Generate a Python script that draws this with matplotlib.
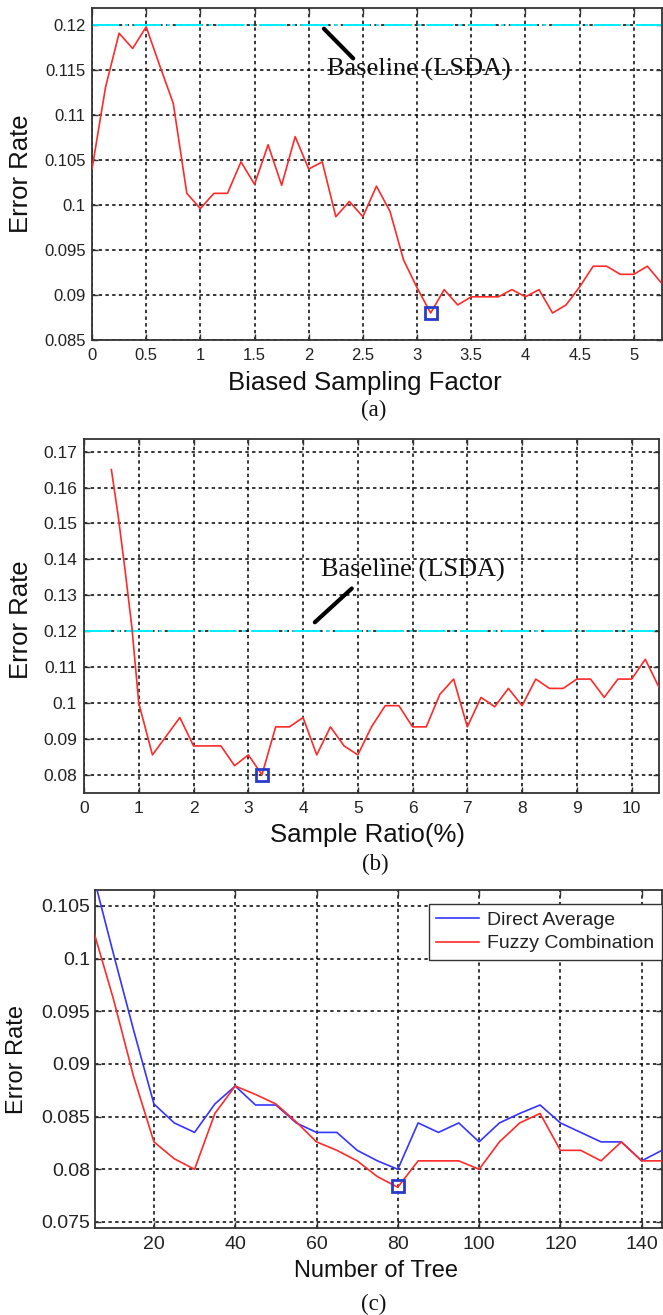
import matplotlib
matplotlib.use("Agg")
import matplotlib.pyplot as plt
import numpy as np
from matplotlib.ticker import FuncFormatter

# ---------------- data ----------------
a_x = [0, 0.125, 0.25, 0.375, 0.5, 0.625, 0.75, 0.875, 1.0, 1.125, 1.25, 1.375,
       1.5, 1.625, 1.75, 1.875, 2.0, 2.125, 2.25, 2.375, 2.5, 2.625, 2.75, 2.875,
       3.0, 3.125, 3.25, 3.375, 3.5, 3.625, 3.75, 3.875, 4.0, 4.125, 4.25, 4.375,
       4.5, 4.625, 4.75, 4.875, 5.0, 5.125, 5.25]
a_err = [0.1040, 0.1131, 0.1191, 0.1174, 0.1198, 0.1155, 0.1113, 0.1013, 0.0996,
         0.1013, 0.1013, 0.1048, 0.1023, 0.1067, 0.1022, 0.1076, 0.1040, 0.1048,
         0.0987, 0.1004, 0.0987, 0.1021, 0.0993, 0.0939, 0.0908, 0.0880, 0.0906,
         0.0889, 0.0898, 0.0898, 0.0898, 0.0906, 0.0898, 0.0906, 0.0880, 0.0889,
         0.0909, 0.0932, 0.0932, 0.0923, 0.0923, 0.0932, 0.0914]
a_best = (3.125, 0.0880)

b_x = [0.5, 0.625, 0.75, 0.875, 1.0, 1.25, 1.5, 1.75, 2.0, 2.25, 2.5, 2.75, 3.0,
       3.25, 3.5, 3.75, 4.0, 4.25, 4.5, 4.75, 5.0, 5.25, 5.5, 5.75, 6.0, 6.25,
       6.5, 6.75, 7.0, 7.25, 7.5, 7.75, 8.0, 8.25, 8.5, 8.75, 9.0, 9.25, 9.5,
       9.75, 10.0, 10.25, 10.5]
b_err = [0.165, 0.152, 0.137, 0.121, 0.100, 0.0856, 0.0908, 0.0960, 0.0881,
         0.0881, 0.0881, 0.0826, 0.0856, 0.0801, 0.0934, 0.0934, 0.0960, 0.0856,
         0.0934, 0.0881, 0.0856, 0.0934, 0.0993, 0.0993, 0.0934, 0.0934, 0.1025,
         0.1067, 0.0934, 0.1016, 0.0990, 0.1041, 0.0993, 0.1067, 0.1041, 0.1041,
         0.1067, 0.1067, 0.1016, 0.1067, 0.1067, 0.1122, 0.1044]
b_best = (3.25, 0.0801)

baseline = 0.12

c_trees = [5, 10, 15, 20, 25, 30, 35, 40, 45, 50, 55, 60, 65, 70, 75, 80, 85,
           90, 95, 100, 105, 110, 115, 120, 125, 130, 135, 140, 145]
c_direct = [0.1080, 0.1005, 0.0932, 0.0862, 0.0844, 0.0835, 0.0862, 0.0879,
            0.0861, 0.0861, 0.0844, 0.0835, 0.0835, 0.0818, 0.0808, 0.0800,
            0.0844, 0.0835, 0.0844, 0.0826, 0.0844, 0.0853, 0.0861, 0.0844,
            0.0835, 0.0826, 0.0826, 0.0808, 0.0818]
c_fuzzy = [0.1028, 0.0962, 0.0888, 0.0826, 0.0810, 0.0800, 0.0853, 0.0879,
           0.0871, 0.0862, 0.0845, 0.0826, 0.0818, 0.0808, 0.0793, 0.0783,
           0.0808, 0.0808, 0.0808, 0.0800, 0.0826, 0.0844, 0.0853, 0.0818,
           0.0818, 0.0808, 0.0826, 0.0808, 0.0808]
c_best = (80, 0.0784)
c_labels = ["Direct Average", "Fuzzy Combination"]

# ---------------- styling ----------------
W, H = 663, 1315
fig = plt.figure(figsize=(W / 100, H / 100), dpi=100)
SANS = ["Liberation Sans", "DejaVu Sans"]
SERIF = ["Liberation Serif", "DejaVu Serif"]
RED = "#ff2a2a"
BLUE = "#3535ff"
MARK = "#2a3acc"
CYAN = "#00f0ff"
BASE_LS = (0, (14, 3, 1.5, 3))
GRID_KW = dict(color="black", linestyle=(0, (2.2, 2.2)), linewidth=1.1)


def px_axes(l, t, r, b):
    return fig.add_axes([l / W, 1 - b / H, (r - l) / W, (b - t) / H])


def fmt(v, _):
    return "%g" % round(v, 6)


def style(ax, tick_fs, padx, pady):
    for s in ax.spines.values():
        s.set_color("#333333")
        s.set_linewidth(1.3)
    ax.tick_params(direction="in", top=True, right=True, length=4, width=1,
                   colors="#333333", labelcolor="#222222", labelsize=tick_fs)
    ax.tick_params(axis="x", pad=padx)
    ax.tick_params(axis="y", pad=pady)
    for lab in ax.get_xticklabels() + ax.get_yticklabels():
        lab.set_fontfamily(SANS)
    ax.xaxis.set_major_formatter(FuncFormatter(fmt))
    ax.yaxis.set_major_formatter(FuncFormatter(fmt))
    ax.grid(True, **GRID_KW)
    ax.set_axisbelow(True)


def ftext(x, y, s, **kw):
    fig.text(x / W, 1 - y / H, s, ha="center", va="center", **kw)


# ---------------- panel (a) ----------------
ax1 = px_axes(92, 8, 662, 340)
ax1.plot(a_x, a_err, color=RED, lw=1.2, zorder=3)
ax1.axhline(baseline, color=CYAN, lw=1.4, linestyle=BASE_LS, zorder=2)
ax1.plot([a_best[0]], [a_best[1]], marker="s", ms=8, mfc="none", mec=MARK,
         mew=2, zorder=4)
ax1.set_xlim(0, 5.26)
ax1.set_ylim(0.085, 0.1219)
ax1.set_xticks([0, 0.5, 1, 1.5, 2, 2.5, 3, 3.5, 4, 4.5, 5])
ax1.set_yticks([0.085, 0.09, 0.095, 0.1, 0.105, 0.11, 0.115, 0.12])
style(ax1, 12, 5.5, 4.5)
ax1.plot([2.14, 2.41], [0.1196, 0.1163], color="black", lw=3, zorder=5,
         solid_capstyle="round")
ax1.text(2.165, 0.1151, "Baseline (LSDA)", family=SERIF, fontsize=19,
         ha="left", va="center", color="#111111", zorder=6)
ftext(21, 174, "Error Rate", rotation=90, fontsize=18.5, family=SANS, color="#111111")
ftext(365, 383, "Biased Sampling Factor", fontsize=18.5, family=SANS, color="#111111")
ftext(374, 410, "(a)", fontsize=16.5, family=SERIF, color="#111111")

# ---------------- panel (b) ----------------
ax2 = px_axes(84, 439, 659, 793)
ax2.plot(b_x, b_err, color=RED, lw=1.2, zorder=3)
ax2.axhline(baseline, color=CYAN, lw=1.4, linestyle=BASE_LS, zorder=2)
ax2.plot([b_best[0]], [b_best[1]], marker="s", ms=8, mfc="none", mec=MARK,
         mew=2, zorder=4)
ax2.set_xlim(0, 10.5)
ax2.set_ylim(0.075, 0.1735)
ax2.set_xticks(list(range(0, 11)))
ax2.set_yticks([0.08, 0.09, 0.1, 0.11, 0.12, 0.13, 0.14, 0.15, 0.16, 0.17])
style(ax2, 12.5, 6, 5)
ax2.plot([4.215, 4.89], [0.1225, 0.1319], color="black", lw=3, zorder=5,
         solid_capstyle="round")
ax2.text(4.32, 0.1369, "Baseline (LSDA)", family=SERIF, fontsize=19,
         ha="left", va="center", color="#111111", zorder=6)
ftext(21, 620, "Error Rate", rotation=90, fontsize=18.5, family=SANS, color="#111111")
ftext(368, 835, "Sample Ratio(%)", fontsize=18.5, family=SANS, color="#111111")
ftext(375, 864, "(b)", fontsize=16.5, family=SERIF, color="#111111")

# ---------------- panel (c) ----------------
ax3 = px_axes(95, 890, 662, 1228)
ax3.plot(c_trees, c_direct, color=BLUE, lw=1.2, zorder=3, label=c_labels[0])
ax3.plot(c_trees, c_fuzzy, color=RED, lw=1.2, zorder=3, label=c_labels[1])
ax3.plot([c_best[0]], [c_best[1]], marker="s", ms=9, mfc="none", mec=MARK,
         mew=2, zorder=4)
ax3.set_xlim(5.5, 145)
ax3.set_ylim(0.07443, 0.1065)
ax3.set_xticks([20, 40, 60, 80, 100, 120, 140])
ax3.set_yticks([0.075, 0.08, 0.085, 0.09, 0.095, 0.1, 0.105])
style(ax3, 14, 6, 3.5)
leg = ax3.legend(loc="upper right", bbox_to_anchor=(1.0, 1 - 14 / 338),
                 borderaxespad=0, fancybox=False, framealpha=1,
                 edgecolor="#333333", prop={"family": SANS, "size": 14},
                 handlelength=2.2, handletextpad=0.45, labelspacing=0.3,
                 borderpad=0.38)
leg.get_frame().set_linewidth(1.0)
for t in leg.get_texts():
    t.set_color("#222222")
ftext(17.5, 1060, "Error Rate", rotation=90, fontsize=17, family=SANS, color="#111111")
ftext(376, 1271, "Number of Tree", fontsize=17, family=SANS, color="#111111")
ftext(374, 1304, "(c)", fontsize=16.5, family=SERIF, color="#111111")

fig.savefig("out.png", dpi=100)
